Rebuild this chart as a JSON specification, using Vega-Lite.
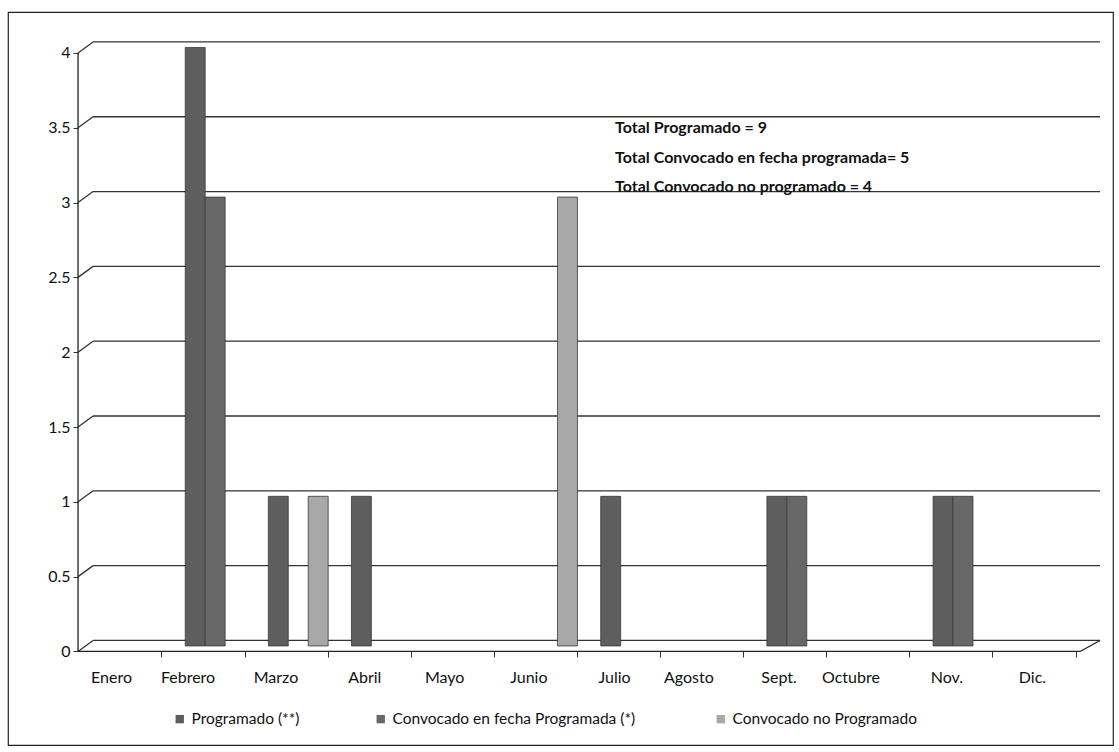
{
  "$schema": "https://vega.github.io/schema/vega-lite/v6.json",
  "width": 1105,
  "height": 733,
  "autosize": "none",
  "padding": {"left": 8, "top": 12, "right": 6, "bottom": 7},
  "background": "white",
  "config": {
    "view": {"stroke": "#222222", "strokeWidth": 1.2},
    "font": "Lato"
  },
  "datasets": {
    "grid": [{"t": 0}, {"t": 0.5}, {"t": 1}, {"t": 1.5}, {"t": 2}, {"t": 2.5}, {"t": 3}, {"t": 3.5}, {"t": 4}]
  },
  "data": {
    "values": [
      {"mes": "Febrero", "serie": "Programado (**)", "valor": 4},
      {"mes": "Febrero", "serie": "Convocado  en fecha Programada (*)", "valor": 3},
      {"mes": "Marzo", "serie": "Programado (**)", "valor": 1},
      {"mes": "Marzo", "serie": "Convocado no Programado", "valor": 1},
      {"mes": "Abril", "serie": "Programado (**)", "valor": 1},
      {"mes": "Junio", "serie": "Convocado no Programado", "valor": 3},
      {"mes": "Julio", "serie": "Programado (**)", "valor": 1},
      {"mes": "Sept.", "serie": "Programado (**)", "valor": 1},
      {"mes": "Sept.", "serie": "Convocado  en fecha Programada (*)", "valor": 1},
      {"mes": "Nov.", "serie": "Programado (**)", "valor": 1},
      {"mes": "Nov.", "serie": "Convocado  en fecha Programada (*)", "valor": 1}
    ]
  },
  "layer": [
    {
      "data": {"name": "grid"},
      "mark": {"type": "rule", "color": "#333333", "strokeWidth": 1.3, "yOffset": -5.5},
      "encoding": {
        "y": {"field": "t", "type": "quantitative"},
        "x": {"datum": "Enero", "type": "nominal", "bandPosition": -0.152},
        "x2": {"datum": "Dic.", "bandPosition": 1.401}
      }
    },
    {
      "data": {"name": "grid"},
      "mark": {"type": "rule", "color": "#333333", "strokeWidth": 1.3, "yOffset": 5.5, "y2Offset": -5.5},
      "encoding": {
        "y": {"field": "t", "type": "quantitative"},
        "y2": {"field": "t"},
        "x": {"datum": "Enero", "type": "nominal", "bandPosition": -0.403},
        "x2": {"datum": "Enero", "bandPosition": -0.152}
      }
    },
    {
      "data": {"values": [{}]},
      "mark": {"type": "rule", "color": "#222222", "strokeWidth": 1.3, "yOffset": 5.5},
      "encoding": {
        "x": {"datum": "Enero", "type": "nominal", "bandPosition": -0.403},
        "x2": {"datum": "Dic.", "bandPosition": 1.067},
        "y": {"datum": 0, "type": "quantitative"}
      }
    },
    {
      "data": {"values": [{}]},
      "mark": {"type": "rule", "color": "#222222", "strokeWidth": 1.3, "yOffset": 5.5, "y2Offset": -5.5},
      "encoding": {
        "x": {"datum": "Dic.", "type": "nominal", "bandPosition": 1.067},
        "x2": {"datum": "Dic.", "bandPosition": 1.401},
        "y": {"datum": 0, "type": "quantitative"},
        "y2": {"datum": 0}
      }
    },
    {
      "data": {"values": [{}]},
      "mark": {"type": "rule", "color": "#222222", "strokeWidth": 1.3, "yOffset": 5.5, "y2Offset": 5.5},
      "encoding": {
        "x": {"datum": "Enero", "type": "nominal", "bandPosition": -0.403},
        "y": {"datum": 0, "type": "quantitative"},
        "y2": {"datum": 4}
      }
    },
    {
      "mark": {"type": "bar", "stroke": "#3a3a3a", "strokeWidth": 0.8},
      "encoding": {
        "x": {
          "field": "mes",
          "type": "nominal",
          "sort": null,
          "scale": {
            "type": "band",
            "domain": ["Enero", "Febrero", "Marzo", "Abril", "Mayo", "Junio", "Julio", "Agosto", "Sept.", "Octubre", "Nov.", "Dic."],
            "paddingInner": 0.28,
            "paddingOuter": 0.789,
            "align": 0.718
          },
          "axis": {
            "title": null,
            "domain": false,
            "grid": false,
            "bandPosition": 1,
            "labelDx": -56,
            "labelAngle": 0,
            "labelFontSize": 16,
            "labelColor": "#111111",
            "labelPadding": 20,
            "tickColor": "#333333",
            "tickSize": 6,
            "offset": -94
          }
        },
        "xOffset": {
          "field": "serie",
          "type": "nominal",
          "sort": null,
          "scale": {"domain": ["Programado (**)", "Convocado  en fecha Programada (*)", "Convocado no Programado"]}
        },
        "y": {
          "field": "valor",
          "type": "quantitative",
          "stack": null,
          "scale": {"domain": [-0.662, 4.237], "nice": false, "zero": false},
          "axis": {
            "title": null,
            "domain": false,
            "grid": false,
            "values": [0, 0.5, 1, 1.5, 2, 2.5, 3, 3.5, 4],
            "format": "~g",
            "tickOffset": 5.5,
            "labelFontSize": 16,
            "labelColor": "#111111",
            "labelPadding": 3,
            "tickColor": "#333333",
            "tickSize": 5,
            "offset": -70
          }
        },
        "color": {
          "field": "serie",
          "type": "nominal",
          "sort": null,
          "scale": {
            "domain": ["Programado (**)", "Convocado  en fecha Programada (*)", "Convocado no Programado"],
            "range": ["#5e5e5e", "#686868", "#a8a8a8"]
          },
          "legend": {
            "title": null,
            "orient": "none",
            "legendX": 164,
            "legendY": 699,
            "direction": "horizontal",
            "symbolType": "square",
            "symbolSize": 70,
            "symbolStrokeWidth": 0,
            "labelFontSize": 15.5,
            "labelColor": "#111111",
            "columnPadding": 73,
            "labelLimit": 400
          }
        }
      }
    },
    {
      "data": {"values": [{}]},
      "mark": {"type": "text", "align": "left", "baseline": "middle", "fontWeight": "bold", "fontSize": 16, "lineHeight": 29.5, "color": "#111111", "font": "Lato"},
      "encoding": {
        "x": {"datum": "Julio", "type": "nominal", "bandPosition": 0.24},
        "y": {"datum": 3.46, "type": "quantitative"},
        "text": {"value": ["Total Programado = 9", "Total Convocado en fecha programada= 5", "Total Convocado no programado =  4"]}
      }
    }
  ]
}
